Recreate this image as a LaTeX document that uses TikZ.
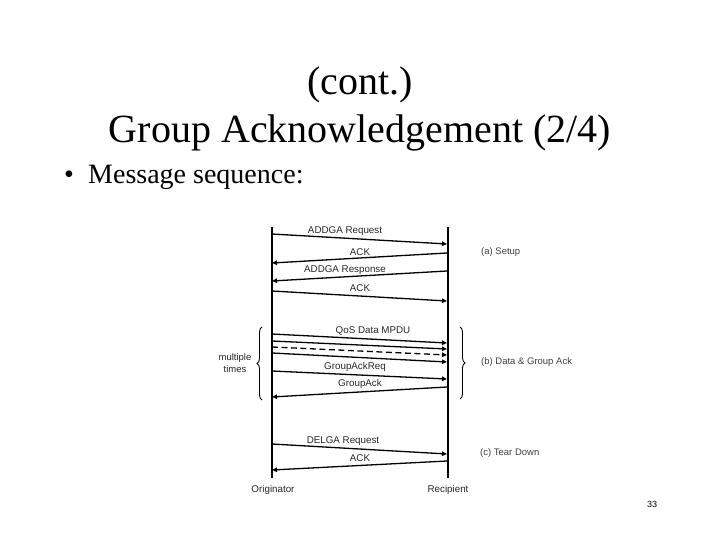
\documentclass[tikz,border=0pt]{standalone}
\usepackage{fontspec}
\setmainfont{Liberation Serif}
\newfontfamily\arialf{Liberation Sans}
\usetikzlibrary{arrows.meta,decorations.pathreplacing}
\definecolor{lbl}{HTML}{262626}
\definecolor{cap}{HTML}{404040}
\begin{document}
\begin{tikzpicture}[x=1pt,y=-1pt,
  life/.style={line width=1.8pt,black},
  msg/.style={line width=1.3pt,black,-{Triangle[length=5pt,width=4.5pt]}},
  dmsg/.style={msg,dash pattern=on 6pt off 3.5pt},
  lab/.style={font=\arialf\fontsize{9.8}{11}\selectfont,text=lbl,inner sep=0pt},
  caption/.style={font=\arialf\fontsize{9.5}{11}\selectfont,text=cap,inner sep=0pt,anchor=west},
  title/.style={font=\fontsize{40}{48}\selectfont,inner sep=0pt,anchor=base},
  bracestyle/.style={line width=0.9pt,black,decorate,decoration={brace,amplitude=5pt}}]
\useasboundingbox (0,0) rectangle (720,540);
% titles
\node[title] (t1) at (360,95) {(cont.)};
\node[title] (t2) at (360,143) {Group Acknowledgement (2/4)};
\node[font=\fontsize{28}{32}\selectfont,inner sep=0pt,anchor=base] (bul) at (69,184) {\textbullet};
\node[font=\fontsize{28}{32}\selectfont,inner sep=0pt,anchor=base west] (msgseq) at (88,184) {Message sequence:};
% lifelines
\coordinate (otop) at (272,227);
\coordinate (obot) at (272,478);
\coordinate (rtop) at (448,227);
\coordinate (rbot) at (448,478);
\draw[life] (otop) -- (obot);
\draw[life] (rtop) -- (rbot);
\node[lab] (orig) at (273,490) {Originator};
\node[lab] (recp) at (448,490) {Recipient};
% message endpoints
\foreach \n/\ly/\ry in {1/234/244,2/263/253,3/281/271,4/291/301,5/334/343,6/341/349,7/347/355,8/353/362,9/371/379,10/397/387,11/444/454,12/470/461}{
  \coordinate (o\n) at (272,\ly);
  \coordinate (r\n) at (447,\ry);
}
% setup
\draw[msg] (o1) -- (r1);
\draw[msg] (r2) -- (o2);
\draw[msg] (r3) -- (o3);
\draw[msg] (o4) -- (r4);
\node[lab] (l1) at (345,231) {ADDGA Request};
\node[lab] (l2) at (360,252) {ACK};
\node[lab] (l3) at (345,270) {ADDGA Response};
\node[lab] (l4) at (360,288) {ACK};
\node[caption] (ca) at (481,252) {(a) Setup};
% data
\draw[msg] (o5) -- (r5);
\draw[msg] (o6) -- (r6);
\draw[dmsg] (o7) -- (r7);
\draw[msg] (o8) -- (r8);
\draw[msg] (o9) -- (r9);
\draw[msg] (r10) -- (o10);
\node[lab] (l5) at (373,331) {QoS Data MPDU};
\node[lab] (l9) at (355,367) {GroupAckReq};
\node[lab] (l10) at (360,384) {GroupAck};
\coordinate (lbb) at (262,400);
\coordinate (lbt) at (262,327);
\coordinate (rbt) at (460,327);
\coordinate (rbb) at (460,399);
\draw[bracestyle] (lbb) -- (lbt);
\draw[bracestyle] (rbt) -- (rbb);
\node[lab,align=center,font=\arialf\fontsize{9.5}{12}\selectfont] (mult) at (235,363) {multiple\\times};
\node[caption] (cb) at (481,362) {(b) Data \& Group Ack};
% tear down
\draw[msg] (o11) -- (r11);
\draw[msg] (r12) -- (o12);
\node[lab] (l11) at (343,441) {DELGA Request};
\node[lab] (l12) at (360,458) {ACK};
\node[caption] (cc) at (480,453) {(c) Tear Down};
% page number
\node[font=\arialf\fontsize{9}{10}\selectfont,inner sep=0pt] (pg) at (652,504) {33};
\end{tikzpicture}
\end{document}
